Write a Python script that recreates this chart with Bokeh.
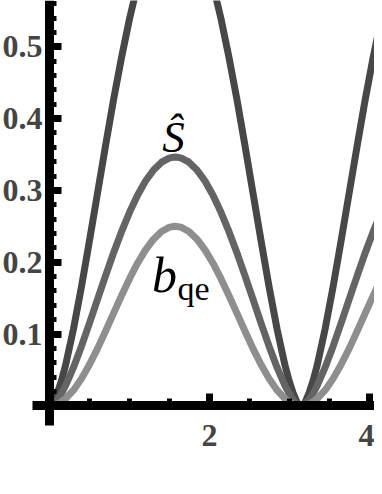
from bokeh.plotting import figure
from bokeh.models import Range1d, FixedTicker, Label
from bokeh.embed import file_html
from bokeh.resources import INLINE

# angle values (x)
theta = [0, 0.02, 0.05, 0.1, 0.15, 0.2, 0.3, 0.4, 0.5, 0.6, 0.7, 0.8, 0.9, 1.0, 1.1, 1.2, 1.3, 1.4, 1.5, 1.571,
         1.642, 1.742, 1.842, 1.942, 2.042, 2.142, 2.242, 2.342, 2.442, 2.542, 2.642, 2.742, 2.842, 2.942,
         2.992, 3.042, 3.092, 3.122, 3.142,
         3.162, 3.192, 3.242, 3.292, 3.342, 3.442, 3.542, 3.642, 3.742, 3.842, 3.942, 4.042, 4.142]

# dark curve (unlabelled, goes off the top)
s_dark = [0, 0.001, 0.005, 0.018, 0.035, 0.056, 0.107, 0.166, 0.230, 0.296, 0.362, 0.426, 0.485, 0.539, 0.586, 0.626, 0.657, 0.679, 0.691, 0.693,
          0.691, 0.679, 0.657, 0.626, 0.586, 0.539, 0.485, 0.426, 0.362, 0.296, 0.230, 0.166, 0.107, 0.056,
          0.035, 0.018, 0.005, 0.001, 0,
          0.001, 0.005, 0.018, 0.035, 0.056, 0.107, 0.166, 0.230, 0.296, 0.362, 0.426, 0.485, 0.539]

# S-hat curve
s_hat = [0, 0.0005, 0.0026, 0.0087, 0.0174, 0.0279, 0.0535, 0.0831, 0.1151, 0.1482, 0.181, 0.2128, 0.2425, 0.2695, 0.2932, 0.313, 0.3285, 0.3393, 0.3453, 0.3466,
         0.3453, 0.3393, 0.3285, 0.313, 0.2932, 0.2695, 0.2425, 0.2128, 0.181, 0.1482, 0.1151, 0.0831, 0.0535, 0.0279,
         0.0174, 0.0087, 0.0026, 0.0005, 0,
         0.0005, 0.0026, 0.0087, 0.0174, 0.0279, 0.0535, 0.0831, 0.1151, 0.1482, 0.181, 0.2128, 0.2425, 0.2695]

# b_qe curve
b_qe = [0, 0.0001, 0.0006, 0.0025, 0.0056, 0.0099, 0.0218, 0.0379, 0.0575, 0.0797, 0.1038, 0.1287, 0.1534, 0.177, 0.1986, 0.2172, 0.2321, 0.2428, 0.2488, 0.25,
        0.2488, 0.2428, 0.2321, 0.2172, 0.1986, 0.177, 0.1534, 0.1287, 0.1038, 0.0797, 0.0575, 0.0379, 0.0218, 0.0099,
        0.0056, 0.0025, 0.0006, 0.0001, 0,
        0.0001, 0.0006, 0.0025, 0.0056, 0.0099, 0.0218, 0.0379, 0.0575, 0.0797, 0.1038, 0.1287, 0.1534, 0.177]

x_major = [2, 4]
x_minor = [0.5, 1, 1.5, 2.5, 3, 3.5]
y_major = [0.1, 0.2, 0.3, 0.4, 0.5]
y_minor = [0.02, 0.04, 0.06, 0.08, 0.12, 0.14, 0.16, 0.18, 0.22, 0.24, 0.26, 0.28,
           0.32, 0.34, 0.36, 0.38, 0.42, 0.44, 0.46, 0.48, 0.52, 0.54, 0.56]
y_labels = {0.1: "0.1", 0.2: "0.2", 0.3: "0.3", 0.4: "0.4", 0.5: "0.5"}

p = figure(width=374, height=486, output_backend="svg", toolbar_location=None,
           x_range=Range1d(-0.6112, 4.0587), y_range=Range1d(-0.1123, 0.5644),
           min_border=0, min_border_left=0, min_border_right=0,
           min_border_top=0, min_border_bottom=0)
p.outline_line_color = None
p.grid.visible = False
p.background_fill_color = "white"
p.border_fill_color = "white"

p.line(theta, s_dark, line_color="#474747", line_width=7, line_join="round", line_cap="round")
p.line(theta, s_hat, line_color="#646464", line_width=7, line_join="round", line_cap="round")
p.line(theta, b_qe, line_color="#8e8e8e", line_width=7, line_join="round", line_cap="round")

FONT = "Liberation Serif"

xa = p.xaxis[0]
xa.fixed_location = 0
xa.bounds = (-0.21, 4.3)
xa.ticker = FixedTicker(ticks=x_major, minor_ticks=x_minor)
xa.axis_line_width = 9
xa.axis_line_color = "black"
xa.major_tick_in = 12
xa.major_tick_out = 0
xa.minor_tick_in = 7
xa.minor_tick_out = 0
xa.major_tick_line_width = 7
xa.minor_tick_line_width = 5
xa.major_label_text_font = FONT
xa.major_label_text_font_style = "bold"
xa.major_label_text_font_size = "32px"
xa.major_label_standoff = 19

ya = p.yaxis[0]
ya.fixed_location = 0
ya.bounds = (-0.027, 0.6)
ya.ticker = FixedTicker(ticks=y_major, minor_ticks=y_minor)
ya.major_label_overrides = y_labels
ya.axis_line_width = 9
ya.axis_line_color = "black"
ya.major_tick_in = 12
ya.major_tick_out = 0
ya.minor_tick_in = 7
ya.minor_tick_out = 0
ya.major_tick_line_width = 7
ya.minor_tick_line_width = 5
ya.major_label_text_font = FONT
ya.major_label_text_font_style = "bold"
ya.major_label_text_font_size = "32px"
ya.major_label_standoff = 7

p.add_layout(Label(x=1.55, y=0.375, text="Ŝ", text_font=FONT, text_font_style="italic",
                   text_font_size="45px", text_align="center", text_baseline="middle",
                   text_color="black"))
p.add_layout(Label(x=1.28, y=0.182, text="b", text_font=FONT, text_font_style="italic",
                   text_font_size="50px", text_align="left", text_baseline="middle",
                   text_color="black"))
p.add_layout(Label(x=1.60, y=0.163, text="qe", text_font=FONT, text_font_style="normal",
                   text_font_size="34px", text_align="left", text_baseline="middle",
                   text_color="black"))

open("out.html", "w").write(file_html(p, INLINE))
